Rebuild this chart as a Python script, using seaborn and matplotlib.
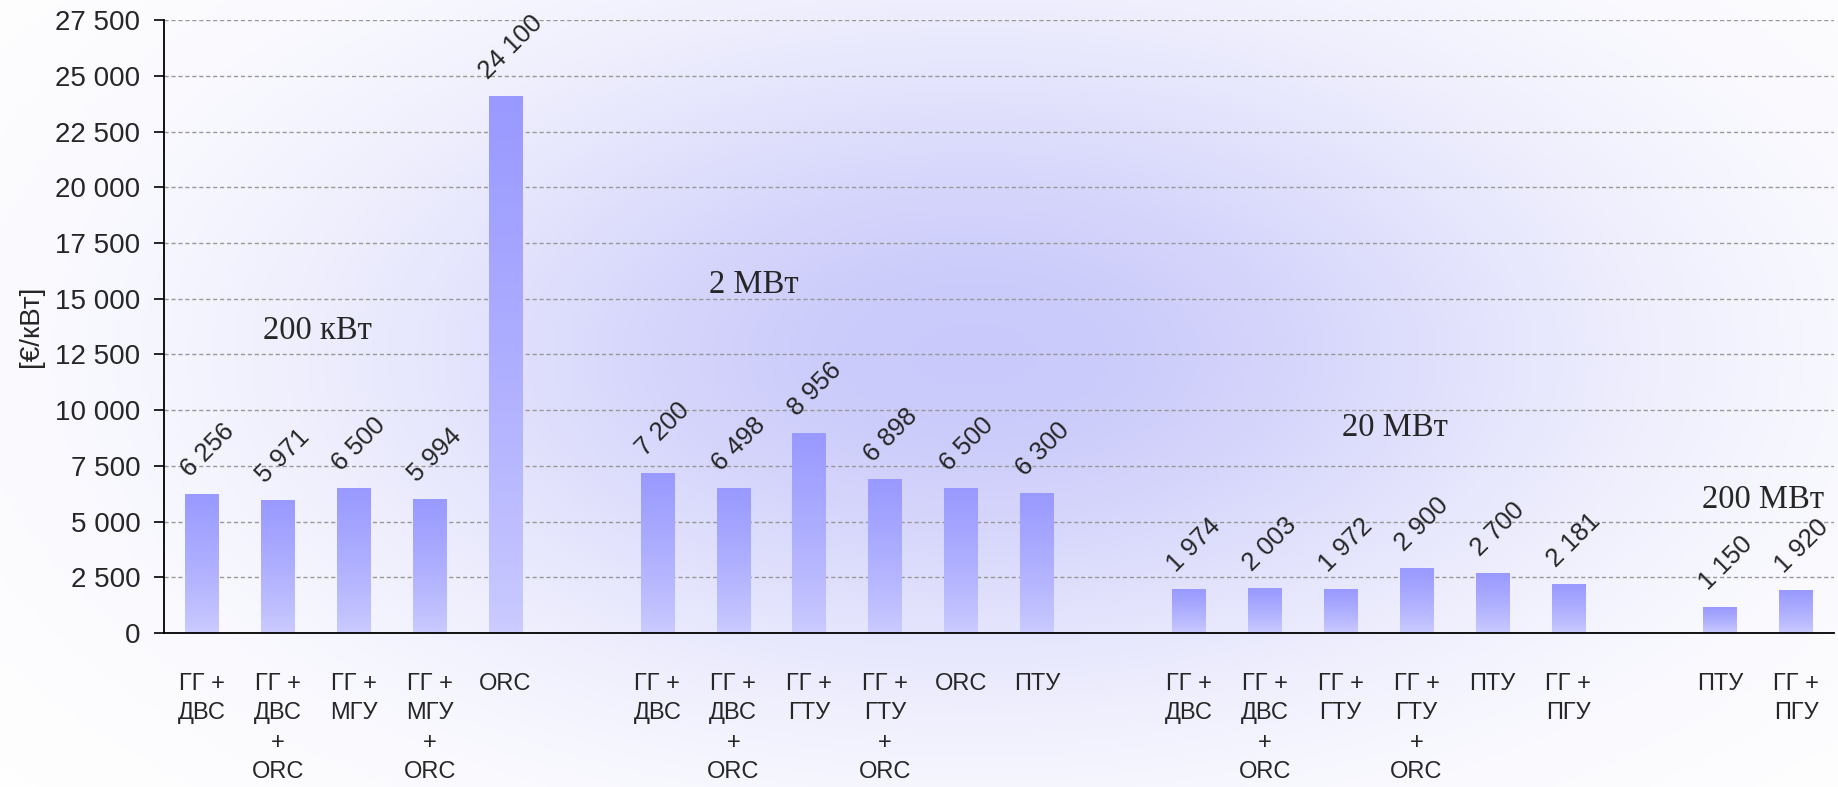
import numpy as np
import pandas as pd
import seaborn as sns
import matplotlib.pyplot as plt

# ------------------------------------------------------------------
# Datos (€/кВт) por grupo de potencia
grupos = ["200 кВт", "2 МВт", "20 МВт", "200 МВт"]

etiquetas_200k = ["ГГ +\nДВС", "ГГ +\nДВС\n+\nORC", "ГГ +\nМГУ", "ГГ +\nМГУ\n+\nORC", "ORC"]
valores_200k = [6256, 5971, 6500, 5994, 24100]

etiquetas_2m = ["ГГ +\nДВС", "ГГ +\nДВС\n+\nORC", "ГГ +\nГТУ", "ГГ +\nГТУ\n+\nORC", "ORC", "ПТУ"]
valores_2m = [7200, 6498, 8956, 6898, 6500, 6300]

etiquetas_20m = ["ГГ +\nДВС", "ГГ +\nДВС\n+\nORC", "ГГ +\nГТУ", "ГГ +\nГТУ\n+\nORC", "ПТУ", "ГГ +\nПГУ"]
valores_20m = [1974, 2003, 1972, 2900, 2700, 2181]

etiquetas_200m = ["ПТУ", "ГГ +\nПГУ"]
valores_200m = [1150, 1920]

y_ticks = list(range(0, 27501, 2500))
# ------------------------------------------------------------------

# Construir tabla con un hueco vacío entre grupos
filas = []
etiquetas_x = []
slot = 0
for etq, vals in [(etiquetas_200k, valores_200k), (etiquetas_2m, valores_2m),
                  (etiquetas_20m, valores_20m), (etiquetas_200m, valores_200m)]:
    for e, v in zip(etq, vals):
        filas.append({"slot": str(slot), "valor": v})
        etiquetas_x.append(e)
        slot += 1
    etiquetas_x.append("")
    slot += 1
etiquetas_x = etiquetas_x[:-1]
n_slots = slot - 1
datos = pd.DataFrame(filas)
orden = [str(i) for i in range(n_slots)]

def fmt(v):
    return f"{v:,.0f}".replace(",", " ")

sns.set_style("white")
plt.rcParams["font.family"] = ["Liberation Sans", "DejaVu Sans"]

fig = plt.figure(figsize=(18.38, 7.87), dpi=100)

# Fondo con degradado lavanda
fondo = fig.add_axes([0, 0, 1, 1])
xx, yy = np.meshgrid(np.linspace(0, 1, 400), np.linspace(0, 1, 200))
w = np.exp(-(((xx - 0.53) / 0.34) ** 2 + ((yy - 0.55) / 0.42) ** 2))
oscuro = np.array([0.79, 0.79, 0.985])
img = 1 - w[..., None] * (1 - oscuro)
fondo.imshow(img, extent=[0, 1, 0, 1], origin="lower", aspect="auto")
fondo.set_axis_off()

ax = fig.add_axes([0.0892, 0.1957, 0.9086, 0.7785])
ax.patch.set_alpha(0)

sns.barplot(data=datos, x="slot", y="valor", order=orden, width=0.44,
            color="#b3b3ff", saturation=1, ax=ax, zorder=3)

# Degradado vertical en cada barra
grad = np.linspace(0, 1, 100)[:, None]
c_top = np.array([0.60, 0.60, 1.0])
c_bot = np.array([0.80, 0.80, 1.0])
t = grad ** 0.8
grad_img = (c_bot * (1 - t)[..., None] + c_top * t[..., None]).reshape(100, 1, 3)
barras = [p for p in ax.patches if p.get_height() > 0]
for p in barras:
    x0, w0, h0 = p.get_x(), p.get_width(), p.get_height()
    im = ax.imshow(grad_img, extent=[x0, x0 + w0, 0, h0], origin="lower",
                   aspect="auto", zorder=3.5)
    im.set_clip_path(p)
    p.set_edgecolor("none")

# Etiquetas de valores rotadas
for p in barras:
    v = p.get_height()
    ax.annotate(fmt(v), (p.get_x() + p.get_width() / 2, v),
                xytext=(4, 9), textcoords="offset points",
                rotation=45, ha="center", va="bottom", fontsize=18.5, zorder=5)

ax.set_xlim(-0.5, n_slots - 0.5)
ax.set_ylim(0, 27500)
ax.set_yticks(y_ticks)
ax.set_yticklabels([fmt(v) for v in y_ticks], fontsize=20)
ax.set_xticks(range(n_slots))
ax.set_xticklabels(etiquetas_x, fontsize=17, linespacing=1.42, va="top")
ax.set_xticks(np.arange(-0.5, n_slots, 1), minor=True)
ax.tick_params(axis="x", which="major", length=0, pad=29)
ax.tick_params(axis="x", which="minor", length=7, width=1.2, direction="out", color="black")
ax.tick_params(axis="y", length=7, width=1.2, direction="out", color="black", pad=10, left=True)
ax.set_xlabel("")
ax.set_ylabel("[€/кВт]", fontsize=20, labelpad=8)

ax.grid(axis="y", linestyle=(0, (3, 2)), color="#999999", linewidth=1)
ax.set_axisbelow(True)
for lado in ["top", "right"]:
    ax.spines[lado].set_visible(False)
for lado in ["left", "bottom"]:
    ax.spines[lado].set_color("black")
    ax.spines[lado].set_linewidth(1.3)
    ax.spines[lado].set_zorder(6)

# Nombres de los grupos
pos_grupos = [(1.52, 13570), (7.27, 15640), (15.72, 9210), (20.57, 5980)]
for g, (gx, gy) in zip(grupos, pos_grupos):
    ax.text(gx, gy, g, ha="center", va="center", fontsize=23.5,
            family=["Liberation Serif", "DejaVu Serif"], zorder=5)

plt.savefig("out.png", dpi=100)
